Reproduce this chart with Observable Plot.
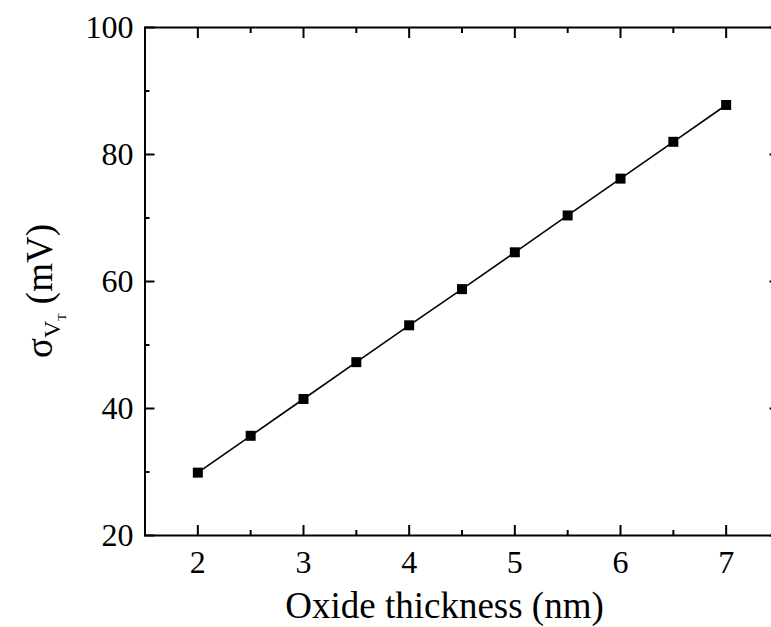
<!DOCTYPE html>
<html>
<head>
<meta charset="utf-8">
<script src="https://cdn.jsdelivr.net/npm/d3@7"></script>
<script src="https://cdn.jsdelivr.net/npm/@observablehq/plot@0.6"></script>
<style>
  html, body { margin: 0; padding: 0; background: #fff; }
  svg { display: block; }
</style>
</head>
<body>
<div id="chart"></div>
<script>
const thickness = [2, 2.5, 3, 3.5, 4, 4.5, 5, 5.5, 6, 6.5, 7];
const sigmaVT = [29.9, 35.7, 41.5, 47.3, 53.1, 58.8, 64.6, 70.4, 76.2, 82.0, 87.8];
const xMajor = [2, 3, 4, 5, 6, 7];
const xMinor = [2.5, 3.5, 4.5, 5.5, 6.5];
const yMajor = [20, 40, 60, 80, 100];
const yMinor = [30, 50, 70, 90];
const xTitle = "Oxide thickness (nm)";

const data = thickness.map((t, i) => ({t, s: sigmaVT[i]}));
const FONT = "Liberation Serif, Times New Roman, serif";

const plot = Plot.plot({
  width: 771,
  height: 627,
  marginLeft: 144.5,
  marginRight: -7.5,
  marginTop: 27,
  marginBottom: 92,
  style: {background: "#fff", color: "#000", fontFamily: FONT},
  x: {domain: [1.5, 7.5]},
  y: {domain: [20, 100]},
  marks: [
    // tick marks (inward)
    Plot.axisX(xMajor, {anchor: "bottom", tickSize: -10, strokeWidth: 2, text: null, label: null}),
    Plot.axisX(xMinor, {anchor: "bottom", tickSize: -5, strokeWidth: 2, text: null, label: null}),
    Plot.axisX(xMajor, {anchor: "top", tickSize: -10, strokeWidth: 2, text: null, label: null}),
    Plot.axisX(xMinor, {anchor: "top", tickSize: -5, strokeWidth: 2, text: null, label: null}),
    Plot.axisY(yMajor, {anchor: "left", tickSize: -10, strokeWidth: 2, text: null, label: null}),
    Plot.axisY(yMinor, {anchor: "left", tickSize: -5, strokeWidth: 2, text: null, label: null}),
    Plot.axisY(yMajor, {anchor: "right", tickSize: -10, strokeWidth: 2, text: null, label: null}),
    Plot.axisY(yMinor, {anchor: "right", tickSize: -5, strokeWidth: 2, text: null, label: null}),
    // tick labels
    Plot.axisX(xMajor, {anchor: "bottom", tickSize: 0, tickPadding: 15, fontSize: 32, fontFamily: FONT, label: null}),
    Plot.axisY(yMajor, {anchor: "left", tickSize: 0, tickPadding: 11.5, fontSize: 32, fontFamily: FONT, label: null}),
    Plot.frame({stroke: "#000", strokeWidth: 2}),
    Plot.line(data, {x: "t", y: "s", stroke: "#000", strokeWidth: 1.6}),
    Plot.dot(data, {x: "t", y: "s", symbol: "square", r: 5.64, fill: "#000", stroke: "none"}),
    Plot.text([xTitle], {frameAnchor: "bottom", lineAnchor: "bottom", dy: 82, dx: -17.5, fontSize: 37, fontFamily: FONT, fill: "#000", text: d => d})
  ]
});

document.getElementById("chart").appendChild(plot);

// y-axis title with subscripts
const svg = d3.select(plot);
const yt = svg.append("text")
  .attr("transform", "translate(52,291) rotate(-90)")
  .attr("text-anchor", "middle")
  .attr("font-family", FONT)
  .attr("font-size", 37)
  .attr("fill", "#000");
yt.append("tspan").text("σ");
yt.append("tspan").attr("font-size", 24).attr("dy", 8).text("V");
yt.append("tspan").attr("font-size", 12).attr("dy", 6).text("T");
yt.append("tspan").attr("dy", -14).text(" (mV)");
</script>
</body>
</html>
